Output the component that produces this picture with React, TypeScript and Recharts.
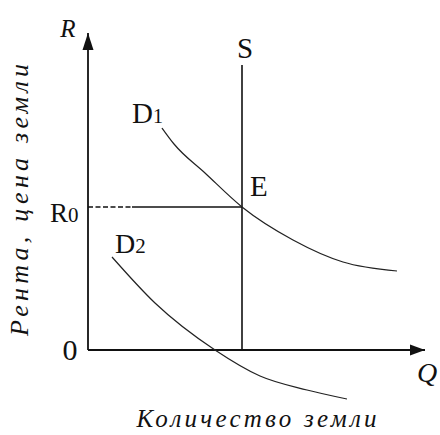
import React from 'react';
import { ComposedChart, Line, Scatter, XAxis, YAxis } from 'recharts';

const W = 440;
const H = 435;
const Q_DOMAIN: [number, number] = [-8.8, 35.2];
const R_DOMAIN: [number, number] = [-8.5, 35];

// Demand curve D1 (quantity, rent)
const D1_Q = [7.4, 8.6, 11.7, 15.4, 20.5, 25.5, 30.9];
const D1_R = [22.2, 20.6, 17.7, 14.3, 11.0, 8.8, 7.9];
// Demand curve D2
const D2_Q = [2.4, 6.7, 12.7, 17.2, 21.9, 25.9];
const D2_R = [9.3, 4.7, 0, -2.6, -4.0, -4.9];
// Supply (vertical), equilibrium rent
const S_Q = 15.4;
const S_TOP = 28.5;
const R0 = 14.3;
const DASH_END_Q = 4.4;
// Axes extents
const AXIS_Q_MAX = 33.7;
const AXIS_R_MAX = 31.7;

// Texts
const T_R = 'R';
const T_Q = 'Q';
const T_S = 'S';
const T_D = 'D';
const T_D1 = '1';
const T_D2 = '2';
const T_E = 'E';
const T_R0 = 'R';
const T_R0_SUB = '0';
const T_ZERO = '0';
const T_YTITLE = 'Рента, цена земли';
const T_XTITLE = 'Количество земли';

const pts = (qs: number[], rs: number[]) => qs.map((q, i) => ({ q, r: rs[i] }));

const serif = '"Liberation Serif", "Times New Roman", serif';
const INK = '#111';

type LabelSpec = {
  text: string;
  sub?: string;
  dx: number;
  dy: number;
  size: number;
  subSize?: number;
  family: string;
  italic?: boolean;
  anchor?: 'start' | 'middle' | 'end';
  rotate?: number;
  length?: number;
};

const makeLabel = (s: LabelSpec) => (props: any) => {
  const x = props.cx + s.dx;
  const y = props.cy + s.dy;
  return (
    <text
      x={x}
      y={y}
      fontFamily={s.family}
      fontSize={s.size}
      fontStyle={s.italic ? 'italic' : 'normal'}
      textAnchor={s.anchor || 'start'}
      fill={INK}
      textLength={s.length}
      lengthAdjust={s.length ? 'spacing' : undefined}
      transform={s.rotate ? `rotate(${s.rotate} ${x} ${y})` : undefined}
    >
      {s.text}
      {s.sub ? <tspan fontSize={s.subSize}>{s.sub}</tspan> : null}
    </text>
  );
};

const arrowUp = (props: any) => {
  const { cx, cy } = props;
  return <polygon points={`${cx},${cy} ${cx - 5.5},${cy + 17} ${cx + 5.5},${cy + 17}`} fill={INK} />;
};
const arrowRight = (props: any) => {
  const { cx, cy } = props;
  return <polygon points={`${cx},${cy} ${cx - 15},${cy - 5.5} ${cx - 15},${cy + 5.5}`} fill={INK} />;
};

const lineProps = { dot: false, activeDot: false, isAnimationActive: false } as const;

export default function App() {
  const yAxisLine = [{ q: 0, r: 0 }, { q: 0, r: AXIS_R_MAX }];
  const xAxisLine = [{ q: 0, r: 0 }, { q: AXIS_Q_MAX, r: 0 }];
  const sLine = [{ q: S_Q, r: 0 }, { q: S_Q, r: S_TOP }];
  const r0Dashed = [{ q: 0, r: R0 }, { q: DASH_END_Q, r: R0 }];
  const r0Solid = [{ q: DASH_END_Q, r: R0 }, { q: S_Q, r: R0 }];
  const d1 = pts(D1_Q, D1_R);
  const d2 = pts(D2_Q, D2_R);

  const at = (q: number, r: number) => [{ q, r }];

  return (
    <div style={{ position: 'absolute', left: 0, top: 0, width: W, height: H, background: '#fff' }}>
      <ComposedChart width={W} height={H} margin={{ top: 0, right: 0, bottom: 0, left: 0 }}>
        <XAxis type="number" dataKey="q" domain={Q_DOMAIN} allowDataOverflow hide />
        <YAxis type="number" dataKey="r" domain={R_DOMAIN} allowDataOverflow hide />

        <Line data={yAxisLine} dataKey="r" stroke={INK} strokeWidth={1.8} {...lineProps} />
        <Line data={xAxisLine} dataKey="r" stroke={INK} strokeWidth={1.8} {...lineProps} />
        <Line data={sLine} dataKey="r" stroke={INK} strokeWidth={1.6} {...lineProps} />
        <Line data={r0Dashed} dataKey="r" stroke={INK} strokeWidth={1.6} strokeDasharray="5 2.5" {...lineProps} />
        <Line data={r0Solid} dataKey="r" stroke={INK} strokeWidth={1.6} {...lineProps} />
        <Line data={d1} dataKey="r" type="monotone" stroke="#222" strokeWidth={1.2} {...lineProps} />
        <Line data={d2} dataKey="r" type="monotone" stroke="#222" strokeWidth={1.2} {...lineProps} />

        <Scatter data={at(0, AXIS_R_MAX)} dataKey="r" shape={arrowUp} isAnimationActive={false} />
        <Scatter data={at(AXIS_Q_MAX, 0)} dataKey="r" shape={arrowRight} isAnimationActive={false} />

        <Scatter data={at(0, AXIS_R_MAX)} dataKey="r" isAnimationActive={false}
          shape={makeLabel({ text: T_R, dx: -20, dy: 4, size: 25, family: serif, italic: true, anchor: 'middle' })} />
        <Scatter data={at(AXIS_Q_MAX, 0)} dataKey="r" isAnimationActive={false}
          shape={makeLabel({ text: T_Q, dx: 2, dy: 32, size: 28, family: serif, italic: true, anchor: 'middle' })} />
        <Scatter data={at(S_Q, S_TOP)} dataKey="r" isAnimationActive={false}
          shape={makeLabel({ text: T_S, dx: 3, dy: -7, size: 29, family: serif, anchor: 'middle' })} />
        <Scatter data={at(D1_Q[0], D1_R[0])} dataKey="r" isAnimationActive={false}
          shape={makeLabel({ text: T_D, sub: T_D1, subSize: 20, dx: -30, dy: -5, size: 29, family: serif })} />
        <Scatter data={at(S_Q, R0)} dataKey="r" isAnimationActive={false}
          shape={makeLabel({ text: T_E, dx: 8, dy: -11, size: 29, family: serif })} />
        <Scatter data={at(0, R0)} dataKey="r" isAnimationActive={false}
          shape={makeLabel({ text: T_R0, sub: T_R0_SUB, subSize: 21, dx: -38, dy: 15, size: 27, family: serif })} />
        <Scatter data={at(D2_Q[0], D2_R[0])} dataKey="r" isAnimationActive={false}
          shape={makeLabel({ text: T_D, sub: T_D2, subSize: 21, dx: 3, dy: -4, size: 28, family: serif })} />
        <Scatter data={at(0, 0)} dataKey="r" isAnimationActive={false}
          shape={makeLabel({ text: T_ZERO, dx: -18, dy: 10, size: 30, family: serif, anchor: 'middle' })} />
        <Scatter data={at(AXIS_Q_MAX / 2, 0)} dataKey="r" isAnimationActive={false}
          shape={makeLabel({ text: T_XTITLE, dx: 0, dy: 77, size: 25, family: serif, italic: true, anchor: 'middle', length: 240 })} />
        <Scatter data={at(0, AXIS_R_MAX / 2)} dataKey="r" isAnimationActive={false}
          shape={makeLabel({ text: T_YTITLE, dx: -60, dy: 8.5, size: 26, family: serif, italic: true, anchor: 'middle', rotate: -90, length: 272 })} />
      </ComposedChart>
    </div>
  );
}
